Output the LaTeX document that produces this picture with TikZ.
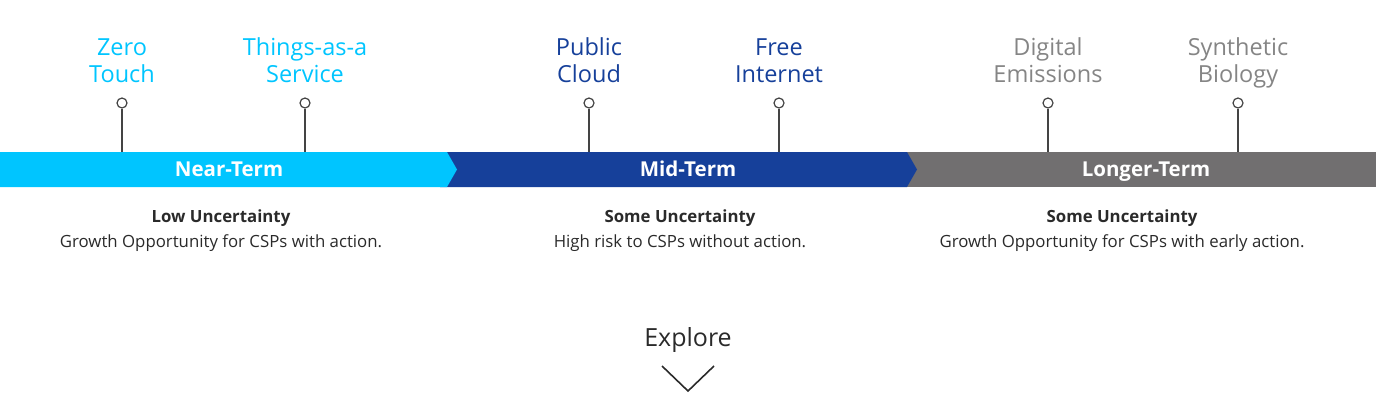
\documentclass[tikz,border=0pt]{standalone}
\usepackage{fontspec}
\setmainfont{Open Sans}
\definecolor{ncyan}{HTML}{00C5FF}
\definecolor{nblue}{HTML}{16409A}
\definecolor{ngray}{HTML}{716F70}
\definecolor{lgray}{HTML}{858585}
\definecolor{txt}{HTML}{2A2A2A}
\definecolor{pin}{HTML}{444444}
\tikzset{
  toplabel/.style={align=center, font=\fontsize{23.5}{27}\selectfont, inner sep=0pt, anchor=base},
  bandlabel/.style={font=\fontsize{20.5}{22}\selectfont\bfseries, text=white, inner sep=0pt, anchor=base},
  headline/.style={font=\fontsize{16.8}{19}\selectfont\bfseries, text=txt, inner sep=0pt, anchor=base},
  subline/.style={font=\fontsize{16.8}{19}\selectfont, text=txt, inner sep=0pt, anchor=base},
  pinhead/.style={circle, draw=pin, fill=white, line width=1.2pt, minimum size=10pt, inner sep=0pt},
  pinline/.style={draw=pin, line width=1.2pt},
}
\begin{document}
\begin{tikzpicture}[x=1pt,y=-1pt]
\useasboundingbox (0,0) rectangle (1376,402);
% bands
\fill[ngray] (900,152) -- (1376,152) -- (1376,187) -- (900,187) -- cycle;
\fill[nblue] (440,152) -- (907,152) -- (917,169.5) -- (907,187) -- (440,187) -- cycle;
\fill[ncyan] (0,152) -- (447,152) -- (457,169.5) -- (447,187) -- (0,187) -- cycle;
\node[bandlabel] (near) at (229,176) {Near-Term};
\node[bandlabel] (mid) at (688,176) {Mid-Term};
\node[bandlabel] (long) at (1146,176) {Longer-Term};
% pins
\foreach \n/\x in {p1/122,p2/305,p3/589,p4/779,p5/1048,p6/1238}{
  \coordinate (\n b) at (\x,152);
  \node[pinhead] (\n) at (\x,103) {};
  \draw[pinline] (\n.south) -- (\n b);
}
% top labels
\node[toplabel, text=ncyan] (l1) at (122,82) {Zero\\Touch};
\node[toplabel, text=ncyan] (l2) at (305,82) {Things-as-a\\Service};
\node[toplabel, text=nblue] (l3) at (589,82) {Public\\Cloud};
\node[toplabel, text=nblue] (l4) at (779,82) {Free\\Internet};
\node[toplabel, text=lgray] (l5) at (1048,82) {Digital\\Emissions};
\node[toplabel, text=lgray] (l6) at (1238,82) {Synthetic\\Biology};
% bottom text
\node[headline] (h1) at (221,222) {Low Uncertainty};
\node[subline] (s1) at (221,247) {Growth Opportunity for CSPs with action.};
\node[headline] (h2) at (680,222) {Some Uncertainty};
\node[subline] (s2) at (680,247) {High risk to CSPs without action.};
\node[headline] (h3) at (1122,222) {Some Uncertainty};
\node[subline] (s3) at (1122,247) {Growth Opportunity for CSPs with early action.};
% explore
\node[anchor=base, inner sep=0pt, font=\fontsize{25}{30}\selectfont, text=txt] (exp) at (688,346) {Explore};
\coordinate (c1) at (662,366);
\coordinate (c2) at (688,391);
\coordinate (c3) at (714,366);
\draw[txt, line width=1.6pt] (c1) -- (c2) -- (c3);
\end{tikzpicture}
\end{document}
